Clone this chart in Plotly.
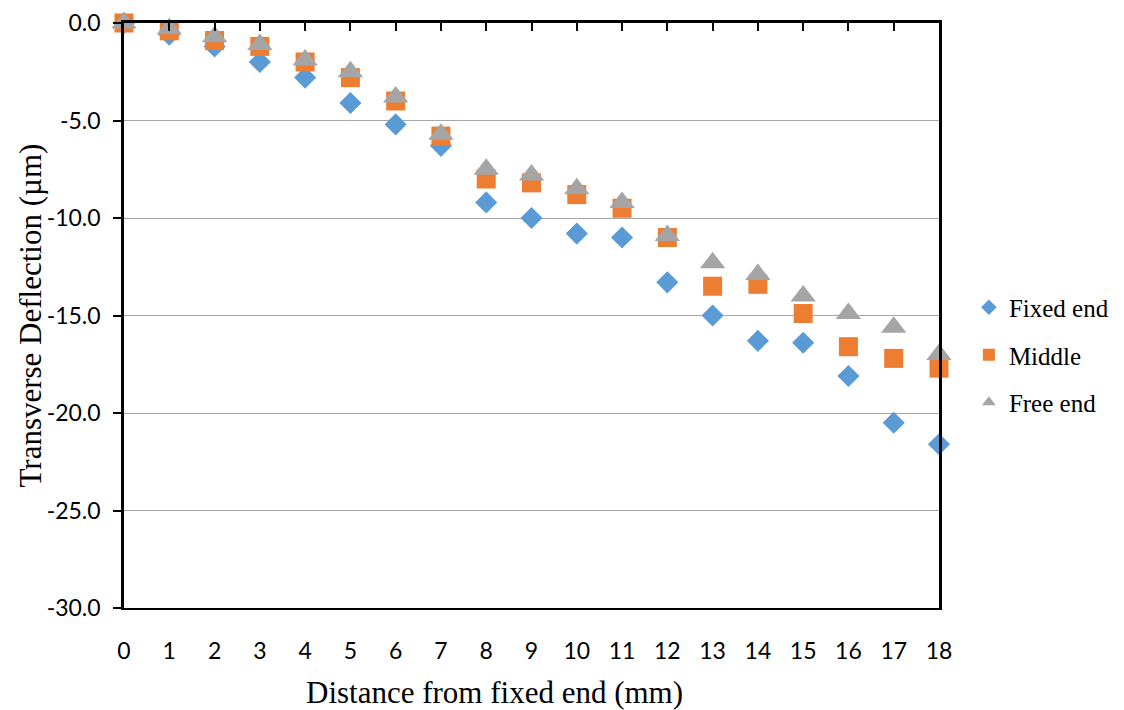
import plotly.graph_objects as go

distance = list(range(0, 19))
fixed_end = [0.0, -0.6, -1.2, -2.0, -2.8, -4.1, -5.2, -6.3, -9.2, -10.0, -10.8, -11.0,
             -13.3, -15.0, -16.3, -16.4, -18.1, -20.5, -21.6]
middle = [0.0, -0.4, -0.9, -1.2, -2.0, -2.8, -4.0, -5.8, -8.0, -8.2, -8.8, -9.5,
          -11.0, -13.5, -13.4, -14.9, -16.6, -17.2, -17.7]
free_end = [0.0, -0.3, -0.7, -1.1, -1.9, -2.5, -3.8, -5.7, -7.5, -7.8, -8.5, -9.2,
            -10.9, -12.3, -12.9, -14.0, -14.9, -15.6, -17.0]
y_ticks = [0, -5, -10, -15, -20, -25, -30]

serif = "Liberation Serif, Times New Roman, serif"
sans = "Lato, Open Sans, sans-serif"

fig = go.Figure()
fig.add_trace(go.Scatter(x=distance, y=fixed_end, mode="markers", name="Fixed end",
                         legendgroup="a",
                         marker=dict(symbol="diamond", size=17, color="#5B9BD5"),
                         cliponaxis=False))
fig.add_trace(go.Scatter(x=distance, y=middle, mode="markers", name="Middle",
                         legendgroup="b",
                         marker=dict(symbol="square", size=19, color="#ED7D31"),
                         cliponaxis=False))
fig.add_trace(go.Scatter(x=distance, y=free_end, mode="markers", name="Free end",
                         legendgroup="c",
                         marker=dict(symbol="triangle-up", size=22, color="#A5A5A5"),
                         cliponaxis=False))
# invisible trace on the top axis that carries the tick marks
fig.add_trace(go.Scatter(x=[0, 18], y=[0, 0], xaxis="x2", mode="markers",
                         marker=dict(opacity=0), showlegend=False, hoverinfo="skip"))

fig.update_layout(
    width=1124, height=710,
    margin=dict(l=124, r=185, t=23, b=102, autoexpand=False),
    plot_bgcolor="white", paper_bgcolor="white",
    font=dict(family=sans, color="black"),
    xaxis=dict(range=[0, 18], tickmode="array", tickvals=distance,
               showgrid=False, zeroline=False, showline=True, linecolor="black",
               linewidth=2, ticks="", ticklabelstandoff=21, automargin=False,
               tickfont=dict(size=23, family=sans)),
    xaxis2=dict(range=[0, 18], overlaying="x", side="top", tickmode="array",
                tickvals=distance, showticklabels=False, ticks="inside", ticklen=8,
                tickwidth=2, tickcolor="black", showline=True, linecolor="black",
                linewidth=2.5, showgrid=False, zeroline=False, automargin=False),
    yaxis=dict(range=[-30, 0], tickmode="array", tickvals=y_ticks,
               ticktext=[f"{v:.1f}" for v in y_ticks],
               showgrid=True, gridcolor="#A6A6A6", gridwidth=1, zeroline=False,
               showline=True, linecolor="black", linewidth=2.5, mirror=True,
               ticks="outside", ticklen=8, tickwidth=2, tickcolor="black",
               ticklabelstandoff=8, automargin=False,
               tickfont=dict(size=23, family=sans)),
    legend=dict(xref="container", yref="container", x=0.862, y=0.5,
                xanchor="left", yanchor="middle",
                font=dict(family=serif, size=25),
                itemsizing="constant", traceorder="grouped", tracegroupgap=12,
                bgcolor="rgba(0,0,0,0)", itemwidth=30),
    annotations=[
        dict(text="Distance from fixed end (mm)", xref="paper", yref="paper",
             x=0.454, y=-0.1436, xanchor="center", yanchor="middle",
             showarrow=False, font=dict(family=serif, size=31)),
        dict(text="Transverse Deflection (µm)", xref="paper", yref="paper",
             x=-0.1153, y=0.5, xanchor="center", yanchor="middle", textangle=-90,
             showarrow=False, font=dict(family=serif, size=31)),
    ],
)
fig.write_html("out.html")
